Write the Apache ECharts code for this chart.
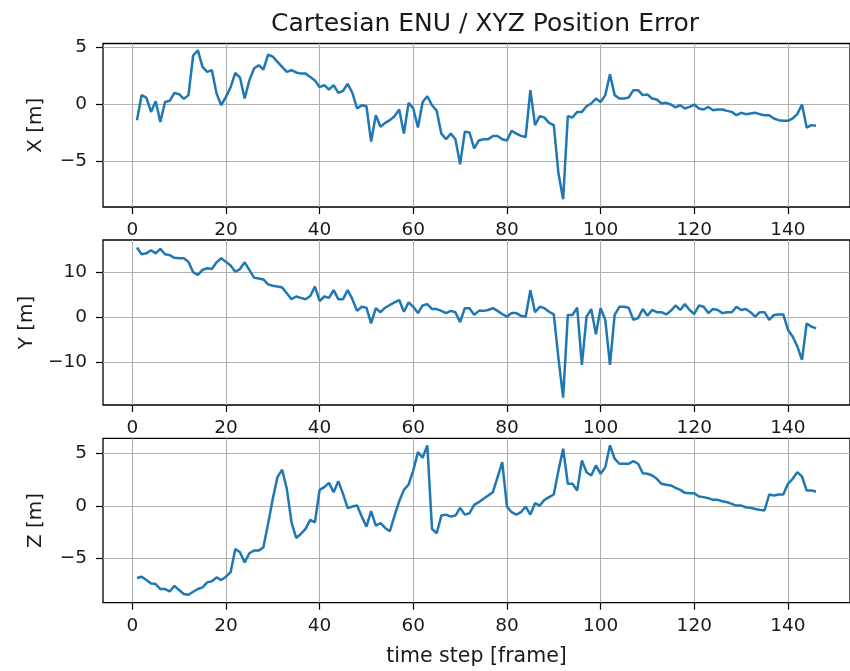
<!DOCTYPE html>
<html>
<head>
<meta charset="utf-8">
<script src="https://cdn.jsdelivr.net/npm/echarts@6/dist/echarts.min.js"></script>
<style>
html,body{margin:0;padding:0;background:#fff;}
#chart{width:850px;height:671px;}
</style>
</head>
<body>
<div id="chart"></div>
<script>
// ---- data ----
const frames = Array.from({length: 146}, (_, i) => i + 1);

const errX = [
 -1.41, 0.79, 0.59, -0.68, 0.26, -1.56, 0.2, 0.3, 1.0, 0.88,
 0.47, 0.8, 4.3, 4.76, 3.3, 2.85, 3.0, 0.94, -0.09, 0.65,
 1.5, 2.76, 2.35, 0.5, 2.1, 3.15, 3.44, 3.06, 4.38, 4.2,
 3.74, 3.3, 2.85, 3.0, 2.8, 2.7, 2.7, 2.4, 2.1, 1.5,
 1.68, 1.3, 1.68, 1.0, 1.18, 1.8, 1.0, -0.38, -0.09, -0.18,
 -3.3, -0.97, -2.0, -1.65, -1.41, -1.06, -0.47, -2.6, 0.12, -0.38,
 -2.06, 0.2, 0.7, -0.09, -0.59, -2.6, -3.1, -2.6, -3.1, -5.3,
 -2.44, -2.5, -3.9, -3.2, -3.1, -3.1, -2.8, -2.8, -3.1, -3.2,
 -2.35, -2.6, -2.8, -2.9, 1.24, -1.85, -1.06, -1.18, -1.65, -1.85,
 -6.1, -8.4, -1.06, -1.18, -0.68, -0.68, -0.18, 0.06, 0.5, 0.2,
 0.8, 2.65, 0.8, 0.5, 0.5, 0.59, 1.24, 1.24, 0.8, 0.85,
 0.5, 0.41, 0.06, 0.12, -0.03, -0.29, -0.09, -0.38, -0.24, -0.03,
 -0.38, -0.47, -0.24, -0.53, -0.47, -0.47, -0.59, -0.68, -0.97, -0.76,
 -0.88, -0.82, -0.76, -0.88, -0.97, -0.97, -1.26, -1.41, -1.47, -1.47,
 -1.26, -0.88, -0.03, -2.06, -1.85, -1.91
];

const errY = [
 15.6, 14.1, 14.3, 15.0, 14.3, 15.3, 14.1, 13.9, 13.3, 13.2,
 13.2, 12.4, 10.1, 9.5, 10.6, 11.0, 10.8, 12.3, 13.2, 12.4,
 11.6, 10.2, 10.8, 12.3, 10.6, 8.9, 8.7, 8.5, 7.4, 7.1,
 6.9, 6.7, 5.4, 4.1, 4.7, 4.4, 4.1, 4.8, 6.9, 3.7,
 4.7, 4.4, 6.1, 4.1, 4.1, 6.1, 4.1, 1.5, 2.4, 2.2,
 -1.3, 2.1, 1.2, 2.2, 2.8, 3.4, 3.9, 1.3, 3.4, 2.4,
 1.0, 2.7, 3.0, 1.9, 1.9, 1.5, 1.0, 1.5, 1.2, -1.0,
 2.1, 2.1, 0.6, 1.5, 1.5, 1.7, 2.1, 1.5, 0.8, 0.2,
 1.0, 1.0, 0.4, 0.2, 6.1, 1.2, 2.4, 2.1, 1.3, 0.7,
 -9.0, -17.8, 0.6, 0.6, 2.2, -10.5, 0.2, 1.9, -3.7, 2.1,
 -0.5, -10.5, 0.6, 2.4, 2.4, 2.2, -0.5, -0.1, 1.9, 0.4,
 1.7, 1.2, 1.2, 0.7, 1.5, 2.7, 1.7, 3.0, 1.7, 0.8,
 2.7, 2.4, 1.0, 1.9, 1.7, 1.0, 1.2, 1.2, 2.4, 1.7,
 1.9, 1.2, 0.2, 1.2, 1.2, -0.5, 0.6, 0.7, 0.7, -2.7,
 -4.2, -6.4, -9.4, -1.3, -2.0, -2.4
];

const errZ = [
 -6.86, -6.73, -7.05, -7.37, -7.43, -7.9, -7.9, -8.13, -7.6, -8.0,
 -8.38, -8.44, -8.16, -7.9, -7.75, -7.27, -7.17, -6.8, -7.05, -6.73,
 -6.3, -4.1, -4.4, -5.37, -4.5, -4.25, -4.25, -3.94, -1.71, 0.67,
 2.73, 3.43, 1.62, -1.56, -3.05, -2.67, -2.19, -1.33, -1.56, 1.52,
 1.78, 2.19, 1.3, 2.35, 1.14, -0.22, -0.06, 0.03, -1.02, -1.97,
 -0.51, -1.87, -1.65, -2.1, -2.41, -0.92, 0.44, 1.52, 2.03, 3.37,
 5.11, 4.57, 5.75, -2.19, -2.6, -0.92, -0.83, -1.02, -0.92, -0.19,
 -0.83, -0.7, 0.1, 0.35, 0.67, 0.98, 1.3, 2.73, 4.16, -0.06,
 -0.6, -0.83, -0.6, -0.06, -0.83, 0.25, 0.03, 0.57, 0.83, 1.08,
 3.37, 5.43, 2.1, 2.1, 1.46, 4.32, 3.2, 2.89, 3.84, 3.05,
 3.68, 5.75, 4.48, 4.0, 4.0, 4.0, 4.25, 4.0, 3.11, 3.05,
 2.89, 2.57, 2.1, 2.0, 1.94, 1.71, 1.52, 1.24, 1.2, 1.2,
 0.89, 0.83, 0.73, 0.57, 0.57, 0.44, 0.35, 0.19, 0.03, 0.03,
 -0.13, -0.19, -0.29, -0.38, -0.44, 1.08, 0.98, 1.08, 1.08, 2.1,
 2.57, 3.2, 2.79, 1.46, 1.46, 1.37
];

const xTicks = [0, 20, 40, 60, 80, 100, 120, 140];
const yTicksX = [-5, 0, 5];
const yTicksY = [-10, 0, 10];
const yTicksZ = [-5, 0, 5];
const yNames = ['X [m]', 'Y [m]', 'Z [m]'];
const titleText = 'Cartesian ENU / XYZ Position Error';
const xName = 'time step [frame]';

// ---- chart ----
const FONT = 'DejaVu Sans';
const TXT = '#1a1a1a';
const fmt = v => (v < 0 ? '\u2212' + Math.abs(v) : String(v));

const panels = [
  {data: errX, ticks: yTicksX, min: -9.08, max: 5.36, grid: {left: 103, top: 43.5, width: 757, height: 163.5}},
  {data: errY, ticks: yTicksY, min: -19.45, max: 17.27, grid: {left: 103, top: 240, width: 757, height: 165}},
  {data: errZ, ticks: yTicksZ, min: -9.2, max: 6.42, grid: {left: 103, top: 438.3, width: 757, height: 164.4}}
];

const option = {
  animation: false,
  backgroundColor: '#fff',
  title: {
    text: titleText,
    left: 480,
    top: 7,
    textAlign: 'center',
    textStyle: {fontFamily: FONT, fontSize: 25, fontWeight: 'normal', color: TXT}
  },
  grid: panels.map(p => Object.assign({show: true, borderColor: '#000', borderWidth: 1.3, backgroundColor: 'transparent'}, p.grid)),
  xAxis: panels.map((p, i) => ({
    type: 'value',
    gridIndex: i,
    position: 'bottom',
    min: -6.25,
    max: 153.25,
    name: i === 2 ? xName : '',
    nameLocation: 'middle',
    nameGap: 43,
    nameTextStyle: {fontFamily: FONT, fontSize: 20.5, color: TXT},
    axisLine: {show: false, onZero: false},
    axisTick: {show: true, inside: false, customValues: xTicks, length: 7, lineStyle: {color: '#000', width: 1.2}},
    axisLabel: {customValues: xTicks, formatter: fmt, fontFamily: FONT, fontSize: 18.5, color: TXT, margin: 14},
    splitLine: {show: true, lineStyle: {color: '#b0b0b0', width: 1.1}}
  })),
  yAxis: panels.map((p, i) => ({
    type: 'value',
    gridIndex: i,
    position: 'left',
    min: p.min,
    max: p.max,
    name: yNames[i],
    nameLocation: 'middle',
    nameGap: 57,
    nameRotate: 90,
    nameTextStyle: {fontFamily: FONT, fontSize: 20, color: TXT},
    axisLine: {show: false, onZero: false},
    axisTick: {show: true, inside: false, customValues: p.ticks, length: 7, lineStyle: {color: '#000', width: 1.2}},
    axisLabel: {customValues: p.ticks, formatter: fmt, fontFamily: FONT, fontSize: 18.5, color: TXT, margin: 16},
    splitLine: {show: true, lineStyle: {color: '#b0b0b0', width: 1.1}}
  })),
  series: panels.map((p, i) => ({
    type: 'line',
    xAxisIndex: i,
    yAxisIndex: i,
    symbol: 'none',
    showSymbol: false,
    clip: true,
    lineStyle: {color: '#1f77b4', width: 2.5},
    itemStyle: {color: '#1f77b4'},
    data: frames.map((f, k) => [f, p.data[k]])
  }))
};

const chart = echarts.init(document.getElementById('chart'), null, {renderer: 'canvas'});
chart.setOption(option);
</script>
</body>
</html>
